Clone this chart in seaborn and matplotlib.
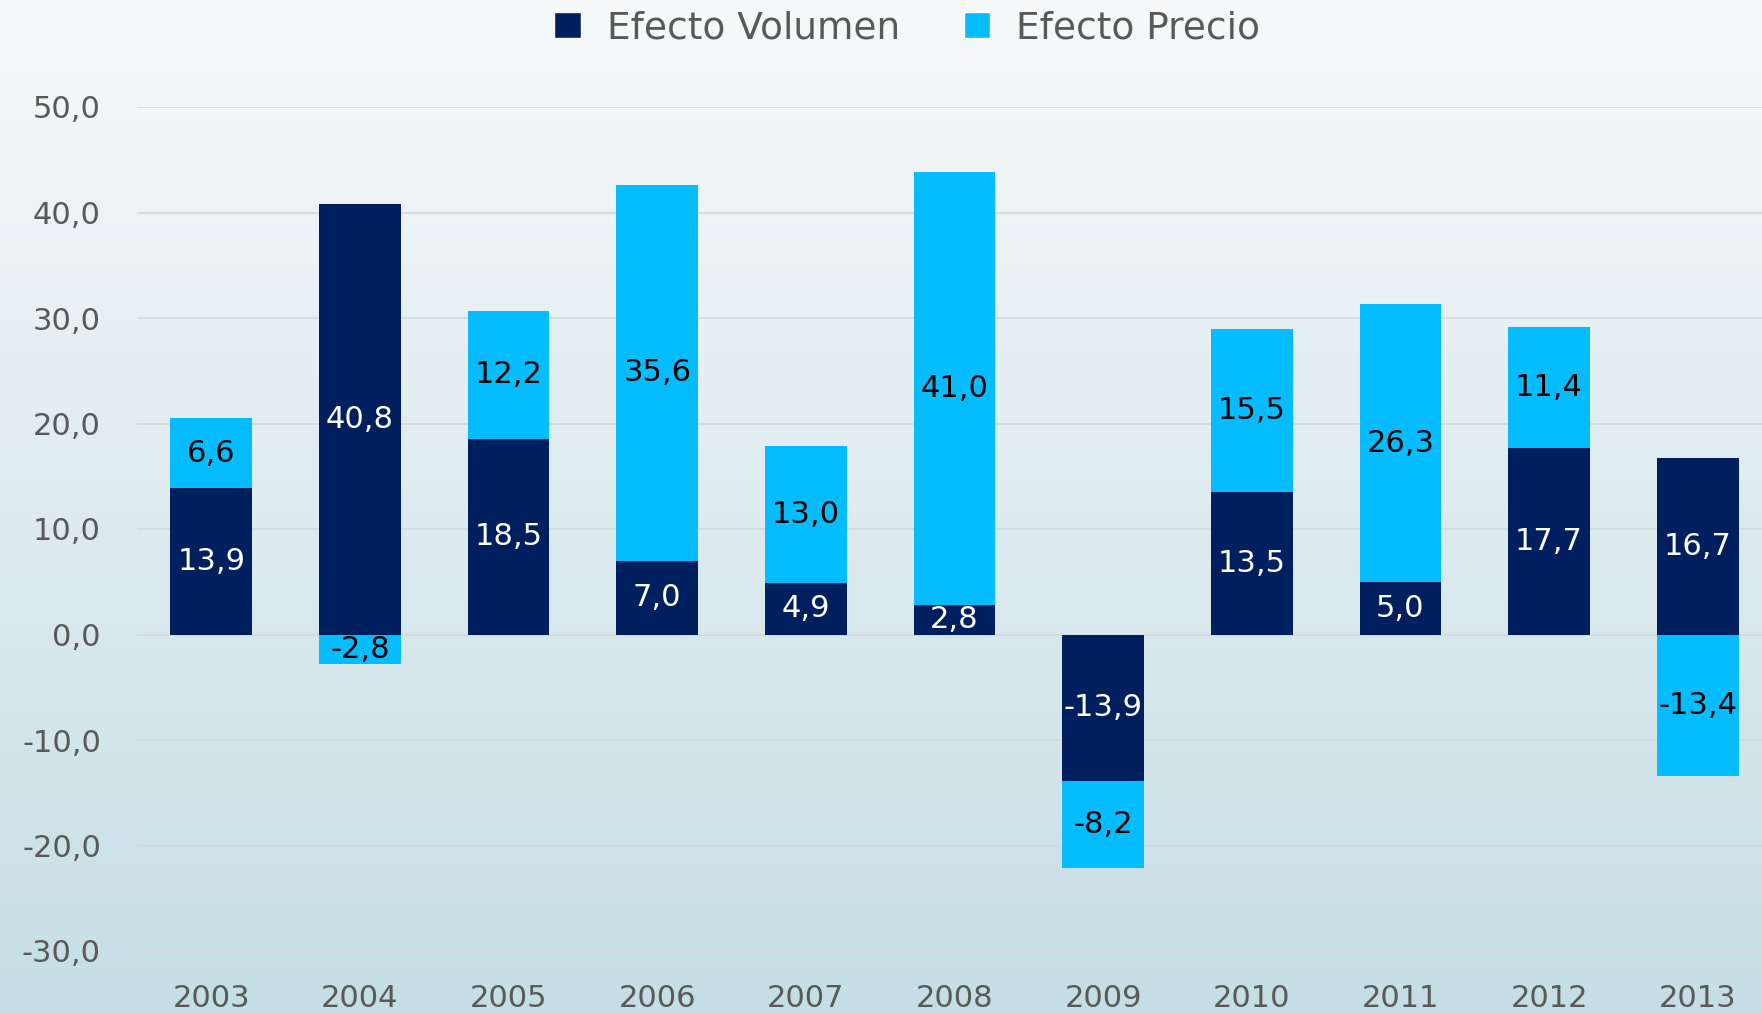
import numpy as np
import pandas as pd
import matplotlib
matplotlib.use("Agg")
import matplotlib.pyplot as plt
import seaborn as sns
from matplotlib.patches import Patch
from matplotlib.colors import LinearSegmentedColormap

years = ["2003", "2004", "2005", "2006", "2007", "2008", "2009", "2010", "2011", "2012", "2013"]
volumen = [13.9, 40.8, 18.5, 7.0, 4.9, 2.8, -13.9, 13.5, 5.0, 17.7, 16.7]
precio = [6.6, -2.8, 12.2, 35.6, 13.0, 41.0, -8.2, 15.5, 26.3, 11.4, -13.4]
yticks = [-30, -20, -10, 0, 10, 20, 30, 40, 50]
series_names = ["Efecto Volumen", "Efecto Precio"]

NAVY = "#001F5E"
CYAN = "#05BDFE"
TXT = "#595959"


def fmt(v):
    return f"{v:.1f}".replace(".", ",")


sns.set_theme(style="white")
plt.rcParams["font.family"] = ["DejaVu Sans"]

W, H = 1762, 1014
fig = plt.figure(figsize=(W / 100, H / 100), dpi=100)

# gradient background
bg = fig.add_axes([0, 0, 1, 1], zorder=0)
grad = np.linspace(0, 1, 256).reshape(-1, 1)
cmap = LinearSegmentedColormap.from_list("bg", ["#F7F9FA", "#C5DEE5"])
bg.imshow(grad, aspect="auto", cmap=cmap, extent=[0, 1, 0, 1], origin="upper")
bg.axis("off")

ax = fig.add_axes([137 / W, 63 / H, 1635 / W, 844 / H], zorder=1)
ax.patch.set_alpha(0)

df = pd.DataFrame({"year": years, "vol": volumen, "pre": precio})
vol = np.array(volumen)
pre = np.array(precio)
base = np.where(np.sign(vol) == np.sign(pre), vol, 0.0)
df["pre_top"] = base + pre

sns.barplot(data=df, x="year", y="pre_top", color=CYAN, width=0.55, saturation=1,
            errorbar=None, ax=ax, zorder=2, linewidth=0)
sns.barplot(data=df, x="year", y="vol", color=NAVY, width=0.55, saturation=1,
            errorbar=None, ax=ax, zorder=3, linewidth=0)

for i in range(len(years)):
    ax.text(i, vol[i] / 2, fmt(vol[i]), ha="center", va="center", color="white",
            fontsize=22, zorder=5)
    ax.text(i, base[i] + pre[i] / 2, fmt(pre[i]), ha="center", va="center", color="black",
            fontsize=22, zorder=5)

ax.set_xlim(-0.5, 10.5)
ax.set_ylim(-30, 50)
ax.set_yticks(yticks)
ax.set_yticklabels([fmt(t) for t in yticks])
ax.yaxis.grid(True, color="#D5D9DB", lw=1.2)
ax.xaxis.grid(False)
ax.set_axisbelow(True)
sns.despine(ax=ax, left=True, bottom=True)
ax.set_xlabel("")
ax.set_ylabel("")
ax.tick_params(axis="both", length=0, labelsize=22, labelcolor=TXT)
ax.tick_params(axis="y", pad=26)
ax.tick_params(axis="x", pad=24)

handles = [Patch(facecolor=NAVY, label=series_names[0]),
           Patch(facecolor=CYAN, label=series_names[1])]
fig.legend(handles=handles, loc="center", bbox_to_anchor=(0.515, 0.972), ncol=2,
           frameon=False, fontsize=27, handlelength=0.7, handleheight=0.7,
           handletextpad=0.7, columnspacing=1.7, labelcolor=TXT)

fig.savefig("out.png", dpi=100)
